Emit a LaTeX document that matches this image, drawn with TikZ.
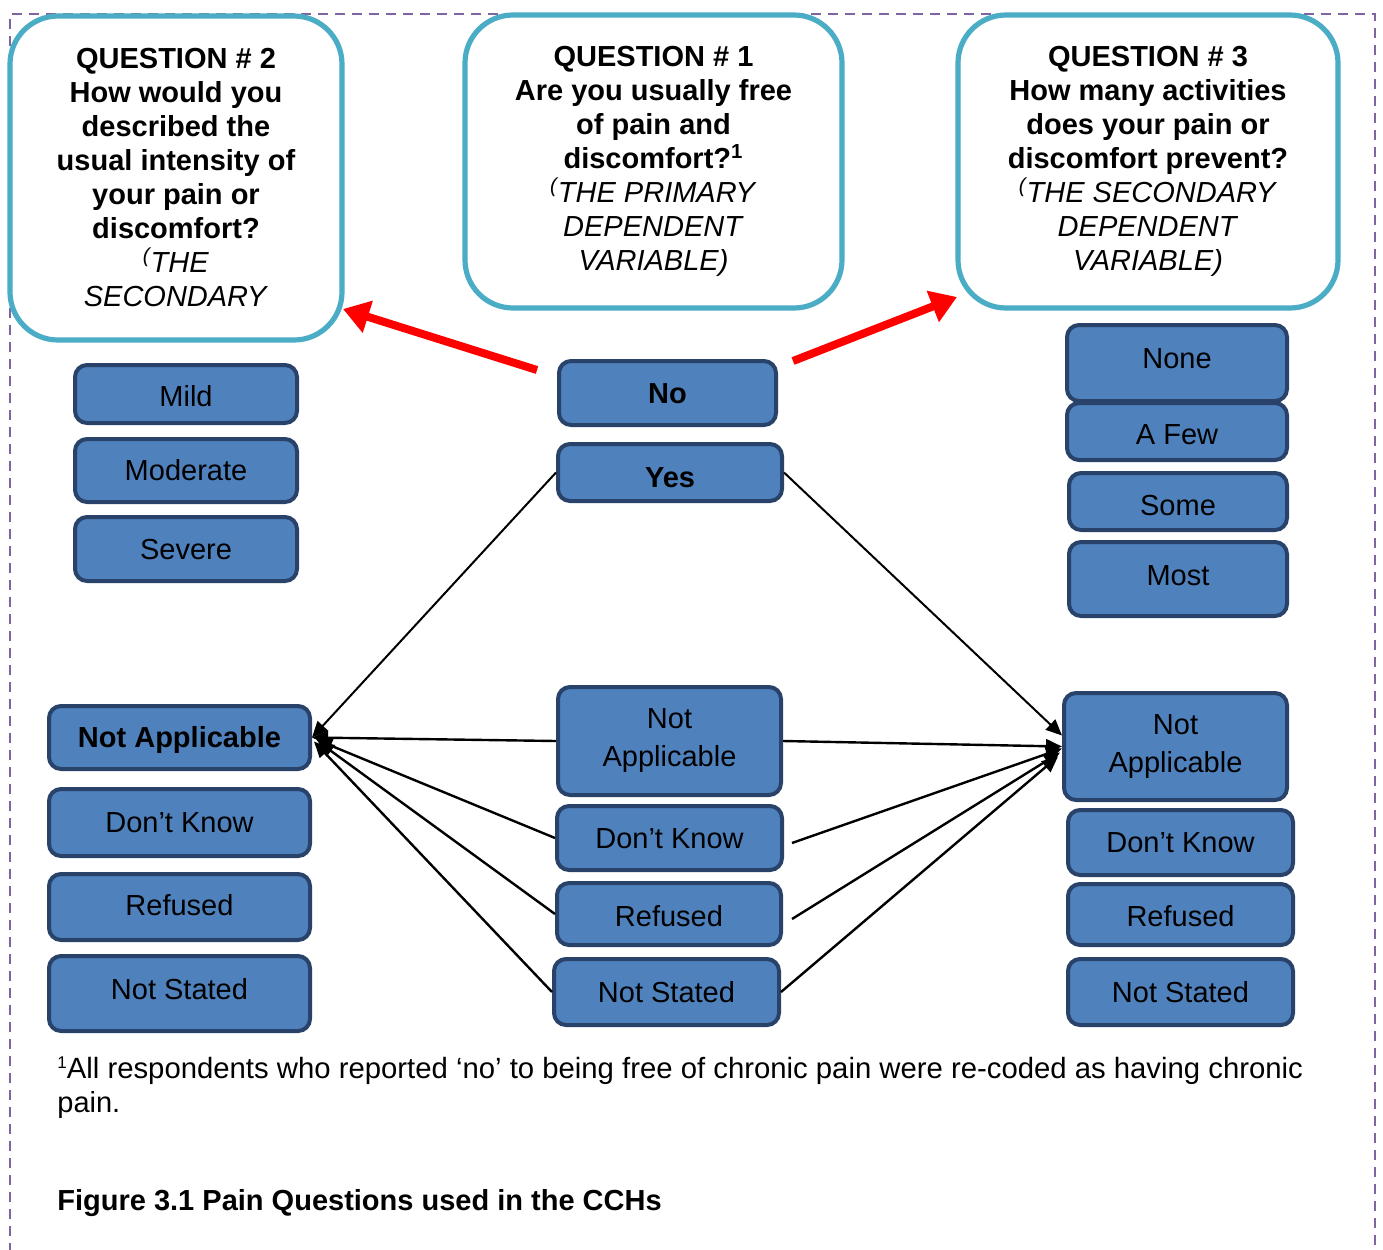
\documentclass[tikz,border=0pt]{standalone}
\usepackage{fontspec}
\setmainfont{Liberation Sans}
\usetikzlibrary{arrows.meta}
\definecolor{qteal}{HTML}{4BACC6}
\definecolor{optfill}{HTML}{4F81BD}
\definecolor{optedge}{HTML}{28426A}
\definecolor{framecol}{HTML}{8064A2}
\definecolor{pointer}{HTML}{FF0000}

\begin{document}
\begin{tikzpicture}[x=0.5pt,y=-0.5pt,
  every node/.style={font=\fontsize{14.5}{17}\selectfont, inner sep=0pt},
  qbox/.style={draw=qteal, line width=2.6pt, rounded corners=24pt, fill=white, align=center},
  opt/.style={draw=optedge, fill=optfill, line width=2pt, rounded corners=6pt, align=center},
  one/.style={text height=10.4pt, text depth=0pt},
  lower/.style={text height=10.4pt+#1, text depth=0pt},
  upper/.style={text height=10.4pt, text depth=#1},
  two/.style={font=\fontsize{14.5}{19}\selectfont},
  sz/.style 2 args={minimum width=#1*0.5pt, minimum height=#2*0.5pt},
  flow/.style={draw=black, line width=1.2pt, -{Triangle[length=8pt,width=7pt]}},
  jump/.style={draw=pointer, line width=4pt, -{Triangle[length=13pt,width=16pt]}},
]
\useasboundingbox (0,0) rectangle (1383,1249);

% dashed frame around the figure
\draw[framecol, line width=1.2pt, dash pattern=on 5pt off 3.5pt]
  (10,1270) -- (10,14) -- (1375,14) -- (1375,1270);

% question boxes
\node[qbox, sz={332}{324}] (q2) at (176,178) {%
  \textbf{QUESTION \# 2}\\ \textbf{How would you}\\ \textbf{described the}\\
  \textbf{usual intensity of}\\ \textbf{your pain or}\\ \textbf{discomfort?}\\
  \textit{\textsuperscript{(}THE}\\ \textit{SECONDARY}};
\node[qbox, sz={377}{293}] (q1) at (653.5,161.5) {%
  \textbf{QUESTION \# 1}\\ \textbf{Are you usually free}\\ \textbf{of pain and}\\
  \textbf{discomfort?\textsuperscript{1}}\\
  \textit{\textsuperscript{(}THE PRIMARY}\\ \textit{DEPENDENT}\\ \textit{VARIABLE)}};
\node[qbox, sz={380}{293}] (q3) at (1148,161.5) {%
  \textbf{QUESTION \# 3}\\ \textbf{How many activities}\\ \textbf{does your pain or}\\
  \textbf{discomfort prevent?}\\
  \textit{\textsuperscript{(}THE SECONDARY}\\ \textit{DEPENDENT}\\ \textit{VARIABLE)}};

% answer options of question 2
\node[opt, lower=2pt, sz={222}{58}] (mild) at (186,394) {Mild};
\node[opt, one, sz={222}{63}] (moderate) at (186,470.5) {Moderate};
\node[opt, one, sz={222}{64}] (severe) at (186,549) {Severe};
\node[opt, one, sz={261}{63}] (lna) at (179.5,737.5) {\textbf{Not Applicable}};
\node[opt, one, sz={261}{67}] (ldk) at (179.5,822.5) {Don’t Know};
\node[opt, upper=2pt, sz={261}{66}] (lref) at (179.5,907) {Refused};
\node[opt, upper=4pt, sz={261}{75}] (lns) at (179.5,993.5) {Not Stated};

% answer options of question 1
\node[opt, one, sz={217}{64}] (no) at (667.5,393) {\textbf{No}};
\node[opt, lower=5pt, sz={224}{57}] (yes) at (670,472.5) {\textbf{Yes}};
\node[opt, two, sz={223}{108}] (mna) at (669.5,741) {Not\\Applicable};
\node[opt, one, sz={225}{64}] (mdk) at (669.5,838) {Don’t Know};
\node[opt, lower=2pt, sz={224}{62}] (mref) at (669,914) {Refused};
\node[opt, one, sz={225}{66}] (mns) at (666.5,992) {Not Stated};

% answer options of question 3
\node[opt, upper=5pt, sz={220}{76}] (none) at (1177,363) {None};
\node[opt, lower=3pt, sz={220}{57}] (afew) at (1177,431.5) {A Few};
\node[opt, lower=4pt, sz={218}{57}] (some) at (1178,501.5) {Some};
\node[opt, upper=4pt, sz={218}{74}] (most) at (1178,579) {Most};
\node[opt, two, sz={223}{107}] (rna) at (1175.5,746.5) {Not\\Applicable};
\node[opt, one, sz={225}{65}] (rdk) at (1180.5,842.5) {Don’t Know};
\node[opt, lower=2pt, sz={225}{61}] (rref) at (1180.5,914.5) {Refused};
\node[opt, one, sz={225}{66}] (rns) at (1180.5,992) {Not Stated};

% red pointers from "No" to the follow-up questions
\coordinate (noL) at (537,370);
\coordinate (noR) at (793,361);
\coordinate (q2tip) at (343,309);
\coordinate (q3tip) at (957,297);
\draw[jump] (noL) -- (q2tip);
\draw[jump] (noR) -- (q3tip);

% routing to question 2 "Not Applicable"
\draw[flow, line width=1pt] (yes.west) -- (lna.east);
\draw[flow] (mna.west) -- (lna.east);
\draw[flow] (mdk.west) -- ([xshift=2pt,yshift=-1pt]lna.east);
\draw[flow] (mref.west) -- ([xshift=3pt,yshift=-2pt]lna.east);
\draw[flow] (mns.west) -- ([xshift=1pt,yshift=-2pt]lna.east);

% routing to question 3 "Not Applicable"
\coordinate (dkR) at (792,843);
\coordinate (refR) at (792,919);
\draw[flow, line width=1pt] (yes.east) -- ([yshift=5.5pt]rna.west);
\draw[flow] (mna.east) -- (rna.west);
\draw[flow] (dkR) -- ([yshift=-1pt]rna.west);
\draw[flow] (refR) -- ([xshift=-1pt,yshift=-3pt]rna.west);
\draw[flow] (mns.east) -- ([xshift=-2pt,yshift=-5pt]rna.west);

% footnote and caption
\node[anchor=base west, font=\fontsize{14.65}{17}\selectfont] (fn1) at (57,1078)
  {\raisebox{0.33em}{\fontsize{8.5}{9}\selectfont 1}All respondents who reported ‘no’ to being free of chronic pain were re-coded as having chronic};
\node[anchor=base west] (fn2) at (57,1112) {pain.};
\node[anchor=base west] (caption) at (57,1210) {\textbf{Figure 3.1 Pain Questions used in the CCHs}};
\end{tikzpicture}
\end{document}
